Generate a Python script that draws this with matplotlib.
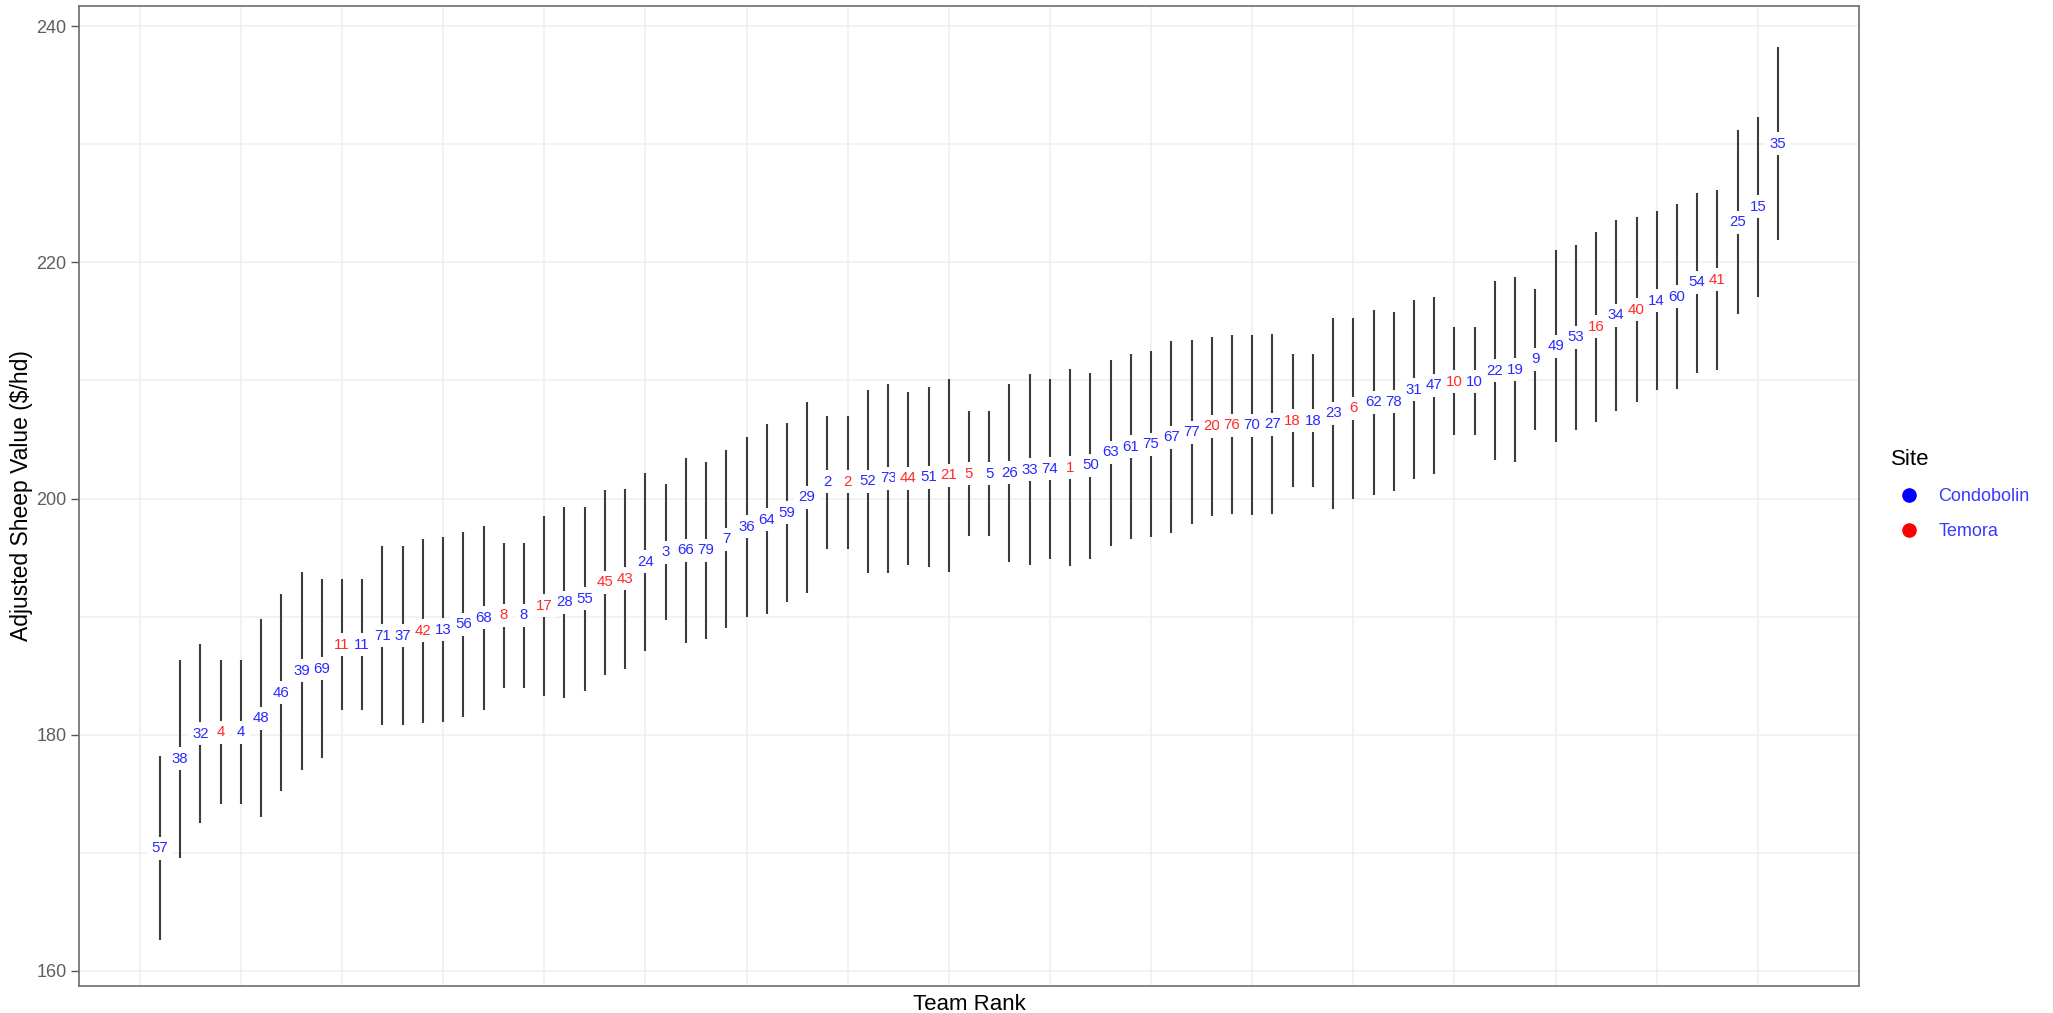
import matplotlib
matplotlib.use('Agg')
import matplotlib.pyplot as plt
from matplotlib.lines import Line2D
import numpy as np

plt.rcParams['font.family'] = ['Liberation Sans', 'DejaVu Sans']

# team numbers in rank order
team = [57, 38, 32, 4, 4, 48, 46, 39, 69, 11, 11, 71, 37, 42, 13, 56, 68, 8, 8, 17,
        28, 55, 45, 43, 24, 3, 66, 79, 7, 36, 64, 59, 29, 2, 2, 52, 73, 44, 51, 21,
        5, 5, 26, 33, 74, 1, 50, 63, 61, 75, 67, 77, 20, 76, 70, 27, 18, 18, 23, 6,
        62, 78, 31, 47, 10, 10, 22, 19, 9, 49, 53, 16, 34, 40, 14, 60, 54, 41, 25, 15, 35]

site = ['C', 'C', 'C', 'T', 'C', 'C', 'C', 'C', 'C', 'T',
        'C', 'C', 'C', 'T', 'C', 'C', 'C', 'T', 'C', 'T',
        'C', 'C', 'T', 'T', 'C', 'C', 'C', 'C', 'C', 'C',
        'C', 'C', 'C', 'C', 'T', 'C', 'C', 'T', 'C', 'T',
        'T', 'C', 'C', 'C', 'C', 'T', 'C', 'C', 'C', 'C',
        'C', 'C', 'T', 'T', 'C', 'C', 'T', 'C', 'C', 'T',
        'C', 'C', 'C', 'C', 'T', 'C', 'C', 'C', 'C', 'C',
        'C', 'T', 'C', 'T', 'C', 'C', 'C', 'T', 'C', 'C', 'C']

value = [170.4, 177.95, 180.1, 180.2, 180.2, 181.4, 183.55, 185.4, 185.6, 187.6,
         187.6, 188.4, 188.4, 188.8, 188.9, 189.35, 189.9, 190.1, 190.1, 190.9,
         191.2, 191.5, 192.9, 193.2, 194.65, 195.45, 195.6, 195.6, 196.55, 197.6,
         198.2, 198.8, 200.1, 201.4, 201.4, 201.45, 201.7, 201.7, 201.8, 201.95,
         202.1, 202.1, 202.2, 202.45, 202.5, 202.6, 202.8, 203.9, 204.4, 204.6,
         205.2, 205.6, 206.1, 206.2, 206.2, 206.3, 206.6, 206.6, 207.2, 207.65,
         208.15, 208.2, 209.2, 209.6, 209.9, 209.9, 210.8, 210.9, 211.8, 212.9,
         213.65, 214.55, 215.5, 216.0, 216.75, 217.1, 218.3, 218.5, 223.4, 224.7, 230.05]

lower = [162.6, 169.6, 172.5, 174.1, 174.1, 173.0, 175.2, 177.0, 178.0, 182.1,
         182.1, 180.8, 180.8, 181.0, 181.1, 181.5, 182.1, 184.0, 184.0, 183.3,
         183.15, 183.7, 185.1, 185.6, 187.1, 189.7, 187.8, 188.1, 189.0, 190.0,
         190.2, 191.2, 192.0, 195.75, 195.75, 193.7, 193.7, 194.4, 194.2, 193.8,
         196.85, 196.85, 194.65, 194.4, 194.9, 194.3, 194.9, 196.0, 196.6, 196.7,
         197.1, 197.8, 198.5, 198.65, 198.6, 198.65, 200.95, 200.95, 199.15, 200.0,
         200.3, 200.6, 201.65, 202.05, 205.35, 205.35, 203.25, 203.1, 205.8, 204.8,
         205.8, 206.5, 207.4, 208.2, 209.2, 209.3, 210.65, 210.9, 215.6, 217.1, 221.9]

upper = [178.2, 186.3, 187.7, 186.3, 186.3, 189.8, 191.9, 193.8, 193.2, 193.2,
         193.2, 196.0, 196.0, 196.6, 196.7, 197.2, 197.7, 196.2, 196.2, 198.5,
         199.3, 199.3, 200.7, 200.8, 202.2, 201.2, 203.4, 203.1, 204.1, 205.2,
         206.3, 206.4, 208.2, 207.0, 207.0, 209.2, 209.7, 209.05, 209.45, 210.1,
         207.4, 207.4, 209.7, 210.5, 210.1, 211.0, 210.65, 211.75, 212.2, 212.45,
         213.3, 213.4, 213.7, 213.8, 213.8, 213.9, 212.2, 212.2, 215.3, 215.3,
         216.0, 215.75, 216.8, 217.1, 214.5, 214.5, 218.4, 218.75, 217.75, 221.05,
         221.5, 222.6, 223.6, 223.8, 224.3, 224.9, 225.9, 226.1, 231.2, 232.3, 238.2]

site_names = {'C': 'Condobolin', 'T': 'Temora'}
text_colors = {'C': '#2a2aff', 'T': '#ff2a2a'}
key_colors = {'C': '#0000ff', 'T': '#ff0000'}

rank = np.arange(1, len(team) + 1)

fig = plt.figure(figsize=(20.53, 10.13), dpi=100)
ax = fig.add_axes([79 / 2053, 1 - 986 / 1013, (1859 - 79) / 2053, (986 - 5.7) / 1013])

ax.vlines(rank, lower, upper, color='#3c3c3c', linewidth=1.5, zorder=2)
for r, v, t, s in zip(rank, value, team, site):
    ax.text(r, v, str(t), ha='center', va='center', fontsize=10.8,
            color=text_colors[s], zorder=3,
            bbox=dict(boxstyle='square,pad=0.3', facecolor='white',
                      edgecolor='none'))

ax.set_xlim(-3, 85)
ax.set_ylim(158.73, 241.72)
ax.set_xticks(np.arange(0, 81, 5))
ax.set_xticklabels([])
ax.set_yticks([160, 180, 200, 220, 240])
ax.set_yticks(np.arange(170, 240, 20), minor=True)
ax.tick_params(axis='x', length=0)
ax.tick_params(axis='y', which='major', length=6, width=1, color='#555555',
               labelsize=13, labelcolor='#5e5e5e', pad=3)
ax.tick_params(axis='y', which='minor', length=0)
ax.grid(True, which='both', color='#efefef', linewidth=1.1, zorder=0)
ax.set_axisbelow(True)
for sp in ax.spines.values():
    sp.set_color('#777777')
    sp.set_linewidth(1.3)

ax.set_xlabel('Team Rank', fontsize=16, labelpad=2)
ax.set_ylabel('Adjusted Sheep Value ($/hd)', fontsize=16.5, labelpad=2)

handles = [Line2D([], [], marker='o', linestyle='none', markersize=9.5,
                  color=key_colors[k]) for k in ['C', 'T']]
leg = fig.legend(handles, [site_names[k] for k in ['C', 'T']], title='Site',
                 loc='upper left', bbox_to_anchor=(1875 / 2053, 1 - 433 / 1013),
                 frameon=False, fontsize=13, title_fontsize=16,
                 alignment='left', handletextpad=0.6, labelspacing=1.0,
                 labelcolor='#3a3aff')

fig.savefig('out.png', dpi=100)
